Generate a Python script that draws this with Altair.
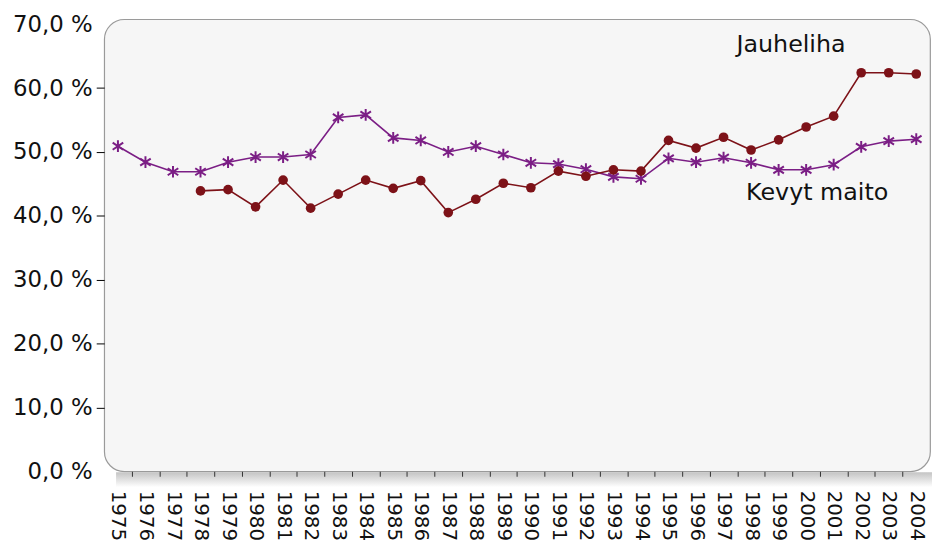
import altair as alt
import pandas as pd

years = list(range(1975, 2005))
kevyt_maito = [50.9, 48.4, 46.9, 46.9, 48.4, 49.2, 49.2, 49.6, 55.4, 55.8,
               52.2, 51.8, 50.0, 50.9, 49.6, 48.3, 48.1, 47.3, 46.1, 45.8,
               49.0, 48.4, 49.1, 48.3, 47.2, 47.2, 48.0, 50.8, 51.7, 52.0]
jauheliha = [None, None, None, 43.9, 44.1, 41.4, 45.6, 41.2, 43.4, 45.6,
             44.3, 45.5, 40.5, 42.6, 45.1, 44.4, 47.0, 46.2, 47.2, 47.0,
             51.8, 50.6, 52.3, 50.3, 51.9, 53.9, 55.6, 62.4, 62.4, 62.2]
y_ticks = [0, 10, 20, 30, 40, 50, 60, 70]

label_names = ["Jauheliha", "Kevyt maito"]
label_x = [1999.45, 2000.4]
label_y = [66.7, 43.6]

PURPLE = "#7b1e85"
RED = "#7d1218"
FONT = "DejaVu Sans"

df_k = pd.DataFrame({"year": years, "value": kevyt_maito})
df_j = pd.DataFrame({"year": years, "value": jauheliha}).dropna()
df_lbl = pd.DataFrame({"x": label_x, "y": label_y, "text": label_names})

x_scale = alt.Scale(domain=[1974.5, 2004.5], nice=False, zero=False)
y_scale = alt.Scale(domain=[0, 70.78], nice=False, zero=True)

x_axis = alt.Axis(
    values=years, format="d", labelAngle=90, labelAlign="left", labelBaseline="middle",
    tickOffset=13.88, labelOffset=-13.88, tickSize=5, tickColor="#333", tickWidth=1,
    tickOpacity={"condition": {"test": "datum.value == 2004", "value": 0}, "value": 1},
    domain=False, grid=False, labelFont=FONT, labelFontSize=20, labelColor="#111",
    labelPadding=14, labelOverlap=False, labelFlush=False, title=None, zindex=2,
)
y_axis = alt.Axis(
    values=y_ticks,
    labelExpr="replace(format(datum.value, '.1f'), '.', ',') + ' %'",
    tickSize=8, tickColor="#000", tickWidth=1,
    tickOpacity={"condition": {"test": "datum.value == 0 || datum.value == 70", "value": 0}, "value": 1},
    domain=False, grid=False, labelFont=FONT, labelFontSize=23, labelColor="#111",
    labelPadding=4, labelFlush=False, labelOverlap=False, title=None, zindex=2,
)

X = alt.X("year:Q", scale=x_scale, axis=x_axis)
Y = alt.Y("value:Q", scale=y_scale, axis=y_axis)

# soft drop shadow under the panel's bottom edge
shadow = alt.Chart().mark_rect(
    color=alt.LinearGradient(
        gradient="linear", x1=0, y1=0, x2=0, y2=1,
        stops=[alt.GradientStop(offset=0, color="#c4c4c4"),
               alt.GradientStop(offset=1, color="#ffffff")],
    ),
    xOffset=12, x2Offset=2, yOffset=1, y2Offset=16,
).encode(
    x=alt.datum(1974.5, scale=x_scale, axis=x_axis),
    x2=alt.datum(2004.5),
    y=alt.datum(0, scale=y_scale, axis=y_axis),
    y2=alt.datum(0),
)

star = "M0,-1L0,1M-0.9,-0.6L0.9,0.6M-0.9,0.6L0.9,-0.6"

k_line = alt.Chart(df_k).mark_line(color=PURPLE, strokeWidth=1.6).encode(x=X, y=Y)
k_pts = alt.Chart(df_k).mark_point(shape=star, filled=False, size=140, strokeWidth=2,
                                   color=PURPLE, opacity=1).encode(x=X, y=Y)
j_line = alt.Chart(df_j).mark_line(color=RED, strokeWidth=1.6).encode(x=X, y=Y)
j_pts = alt.Chart(df_j).mark_point(shape="circle", filled=True, size=95, color=RED,
                                   opacity=1).encode(x=X, y=Y)
labels = alt.Chart(df_lbl).mark_text(font=FONT, fontSize=24, color="#111",
                                     align="center", baseline="middle").encode(
    x=alt.X("x:Q", scale=x_scale, axis=x_axis),
    y=alt.Y("y:Q", scale=y_scale, axis=y_axis),
    text="text:N",
)

chart = alt.layer(shadow, k_line, j_line, k_pts, j_pts, labels).properties(
    width=833, height=456,
    autosize=alt.AutoSizeParams(type="none"),
    padding={"left": 97, "top": 9, "right": 3, "bottom": 70},
    view=alt.ViewBackground(fill="#f6f6f6", stroke="#9a9a9a", strokeWidth=1.2,
                            cornerRadius=20),
).configure(background="white")

chart.save("out.html", embed_options={"renderer": "svg", "actions": False})
